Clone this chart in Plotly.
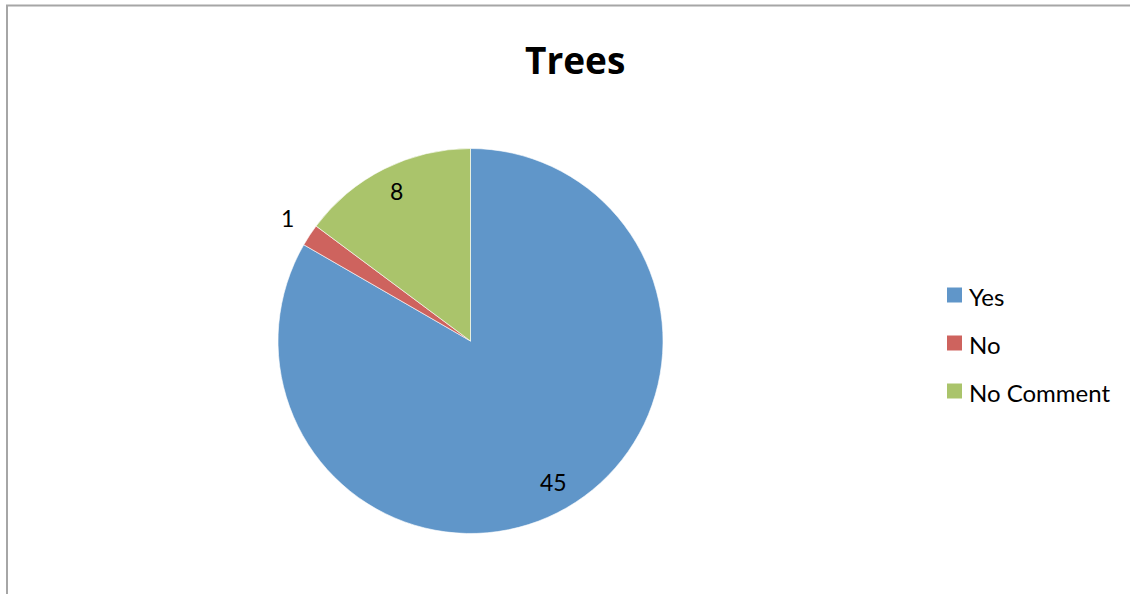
import math
import plotly.graph_objects as go

# ---- data ----
labels = ["Yes", "No", "No Comment"]
values = [45, 1, 8]
colors = ["#6096C9", "#CE635E", "#AAC46B"]
title_text = "Trees"

W, H = 1130, 594
FONT = "Lato, 'Open Sans', sans-serif"

# pie geometry (pixels)
cx, cy, R = 470.5, 341.0, 192.5

fig = go.Figure()
fig.add_trace(go.Pie(
    labels=labels, values=values, sort=False, direction="clockwise", rotation=0,
    marker=dict(colors=colors, line=dict(color="rgba(255,255,255,0.6)", width=1)),
    textinfo="none", hoverinfo="label+value", showlegend=False,
    domain=dict(x=[(cx - R) / W, (cx + R) / W], y=[1 - (cy + R) / H, 1 - (cy - R) / H]),
))

annotations = []
total = sum(values)
cum = 0.0
for lab, v in zip(labels, values):
    mid = (cum + v / 2) / total
    cum += v
    theta = 2 * math.pi * mid
    frac = v / total
    rf = 1.14 if frac < 0.05 else 0.86
    px = cx + rf * R * math.sin(theta)
    py = cy - rf * R * math.cos(theta) - 2
    annotations.append(dict(
        x=px / W, y=1 - py / H, xref="paper", yref="paper", text=str(v),
        showarrow=False, xanchor="center", yanchor="middle",
        font=dict(family=FONT, size=23, color="#000000"),
    ))

# title
annotations.append(dict(
    x=574.5 / W, y=1 - 59 / H, xref="paper", yref="paper", text="<b>%s</b>" % title_text,
    showarrow=False, xanchor="center", yanchor="middle",
    font=dict(family="'Open Sans', sans-serif", size=37, color="#000000"),
))

shapes = []
# legend (manual)
leg_x, leg_y0, leg_dy, sq = 947, 295, 48, 15
for i, (lab, col) in enumerate(zip(labels, colors)):
    yc = leg_y0 + i * leg_dy
    shapes.append(dict(type="rect", xref="paper", yref="paper",
                       x0=leg_x / W, x1=(leg_x + sq) / W,
                       y0=1 - (yc + sq / 2) / H, y1=1 - (yc - sq / 2) / H,
                       fillcolor=col, line=dict(width=0)))
    annotations.append(dict(
        x=(leg_x + sq + 5) / W, y=1 - (yc + 1) / H, xref="paper", yref="paper",
        text=lab, showarrow=False, xanchor="left", yanchor="middle",
        font=dict(family=FONT, size=24, color="#000000"),
    ))

# chart border
shapes.append(dict(type="rect", xref="paper", yref="paper",
                   x0=7 / W, x1=1.05, y0=-0.05, y1=1 - 5.5 / H,
                   line=dict(color="#A6A6A6", width=2), fillcolor="rgba(0,0,0,0)"))

fig.update_layout(
    width=W, height=H, margin=dict(l=0, r=0, t=0, b=0),
    paper_bgcolor="white", plot_bgcolor="white",
    annotations=annotations, shapes=shapes, showlegend=False,
)

fig.write_html("out.html", config={"displayModeBar": False},
               post_script="document.body.style.margin='0';")
